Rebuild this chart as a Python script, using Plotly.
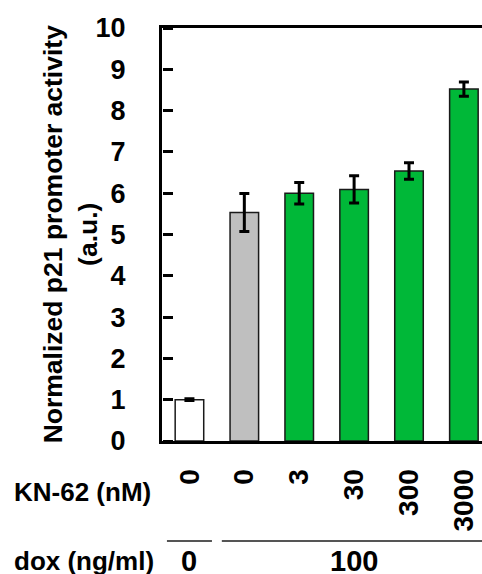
import plotly.graph_objects as go

# KN-62 concentrations (nM) shown under each bar
kn62_labels = ["0", "0", "3", "30", "300", "3000"]
# Normalized p21 promoter activity (a.u.) and standard errors
activity = [1.0, 5.53, 6.0, 6.09, 6.54, 8.52]
errors = [0.02, 0.46, 0.26, 0.33, 0.20, 0.17]
bar_colors = ["#FFFFFF", "#BFBFBF", "#00B838", "#00B838", "#00B838", "#00B838"]
# y-axis ticks
y_ticks = list(range(0, 11))
# dox (ng/ml) groups: label and the bar positions they span
dox_groups = [("0", 0, 0), ("100", 1, 5)]

FONT = "Liberation Sans, Arial, sans-serif"
positions = list(range(len(kn62_labels)))

fig = go.Figure()
fig.add_trace(go.Bar(
    x=positions,
    y=activity,
    width=0.52,
    marker=dict(color=bar_colors, line=dict(color="#1a1a1a", width=1.5)),
    error_y=dict(type="data", array=errors, visible=True,
                 color="black", thickness=3, width=5),
    showlegend=False,
))
# invisible companion trace so the tick-only axis gets drawn
fig.add_trace(go.Scatter(
    x=positions, y=activity, yaxis="y2", mode="markers",
    marker=dict(opacity=0), hoverinfo="skip", showlegend=False,
))

fig.update_layout(
    width=482, height=574,
    margin=dict(l=162, r=0, t=28, b=133),
    plot_bgcolor="white", paper_bgcolor="white",
    font=dict(family=FONT, color="black"),
    bargap=0.5,
    # main y axis: line and labels (tick marks kept transparent for spacing)
    yaxis=dict(
        range=[0, 10], tickmode="array", tickvals=y_ticks,
        ticktext=[str(v) for v in y_ticks],
        ticks="outside", ticklen=20, tickwidth=3, tickcolor="rgba(0,0,0,0)",
        showline=True, linewidth=3, linecolor="black",
        showgrid=False, zeroline=False,
        tickfont=dict(size=27, family=FONT, weight="bold"),
        ticklabelstandoff=8,
    ),
    # companion axis on the left edge that draws the inward-pointing ticks
    yaxis2=dict(
        overlaying="y", side="right", anchor="free", position=0,
        range=[0, 10], tickmode="array", tickvals=y_ticks,
        showticklabels=False, ticks="outside", ticklen=10, tickwidth=3,
        tickcolor="black", showline=False, showgrid=False, zeroline=False,
    ),
    xaxis=dict(
        range=[-0.5, 5.33],
        tickmode="array", tickvals=positions, ticktext=kn62_labels, tickangle=-90,
        ticks="", showline=True, linewidth=3, linecolor="black", mirror=True,
        showgrid=False, zeroline=False,
        tickfont=dict(size=28, family=FONT, weight="bold"),
        ticklabelstandoff=14,
    ),
)

# y-axis title
fig.add_annotation(
    text="Normalized p21 promoter activity<br>(a.u.)",
    xref="paper", yref="paper", x=-0.288, y=0.5,
    xanchor="center", yanchor="middle", textangle=-90, showarrow=False,
    font=dict(size=26.5, family=FONT, weight="bold"),
)

# row labels under the axis
fig.add_annotation(
    text="KN-62 (nM)", xref="paper", yref="paper", x=-0.468, y=-0.123,
    xanchor="left", yanchor="middle", showarrow=False,
    font=dict(size=26, family=FONT, weight="bold"),
)
fig.add_annotation(
    text="dox (ng/ml)", xref="paper", yref="paper", x=-0.468, y=-0.29,
    xanchor="left", yanchor="middle", showarrow=False,
    font=dict(size=26, family=FONT, weight="bold"),
)

# dox group brackets and values
for label, start, end in dox_groups:
    fig.add_shape(
        type="line", xref="x", yref="paper",
        x0=start - 0.41, x1=end + 0.41 if end < 5 else 5.6,
        y0=-0.242, y1=-0.242,
        line=dict(color="#555555", width=2),
    )
    fig.add_annotation(
        text=label, xref="x", yref="paper", x=(start + end) / 2, y=-0.29,
        xanchor="center", yanchor="middle", showarrow=False,
        font=dict(size=29, family=FONT, weight="bold"),
    )

fig.write_html("out.html")
